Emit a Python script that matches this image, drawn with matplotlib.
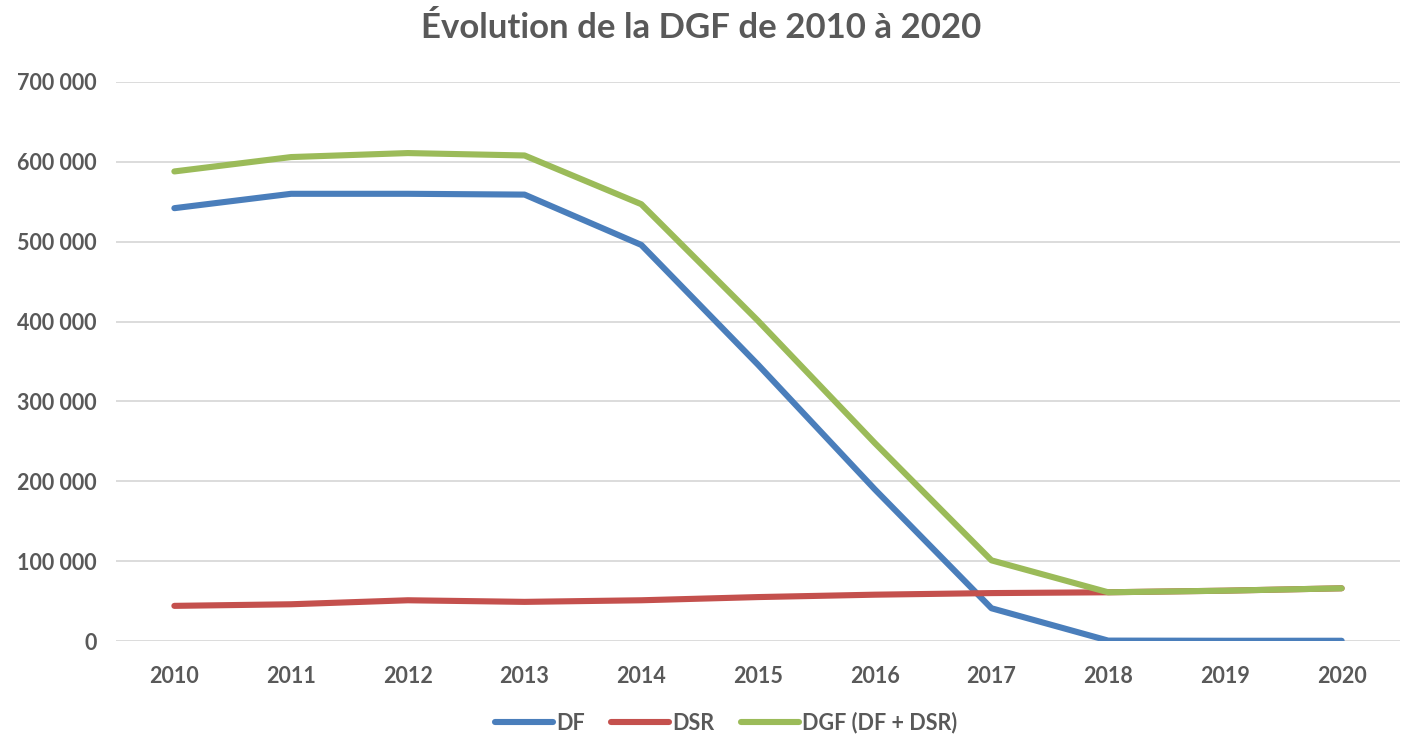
import matplotlib
matplotlib.use("Agg")
import matplotlib.pyplot as plt
from matplotlib.ticker import FuncFormatter

# Données
annees = ["2010", "2011", "2012", "2013", "2014", "2015", "2016", "2017", "2018", "2019", "2020"]
df = [542000, 560000, 560000, 559000, 496000, 346000, 190000, 41000, 500, 300, 300]
dsr = [44000, 46000, 51000, 49000, 51000, 55000, 58000, 60000, 61000, 63000, 66000]
dgf = [588000, 606000, 611000, 608000, 547000, 401000, 248000, 101000, 61000, 63000, 66000]

plt.rcParams['font.family'] = ['Lato', 'DejaVu Sans']
gris = '#595959'

fig = plt.figure(figsize=(14.02, 7.39), dpi=100)
ax = fig.add_axes([116/1402, 98/739, 1284/1402, 559/739])

x = range(len(annees))
ax.plot(x, df, color='#4a7ebb', linewidth=4.4, label='DF', solid_capstyle='round')
ax.plot(x, dsr, color='#c4504d', linewidth=4.4, label='DSR', solid_capstyle='round')
ax.plot(x, dgf, color='#9bbb59', linewidth=4.4, label='DGF (DF + DSR)', solid_capstyle='round')

ax.set_xlim(-0.5, len(annees) - 0.5)
ax.set_ylim(0, 700000)
ax.set_yticks(range(0, 700001, 100000))
ax.yaxis.set_major_formatter(FuncFormatter(lambda v, p: f"{int(v):,}".replace(",", " ")))
ax.set_xticks(list(x))
ax.set_xticklabels(annees)

ax.grid(axis='y', color='#d9d9d9', linewidth=1.3)
ax.set_axisbelow(True)
for s in ax.spines.values():
    s.set_visible(False)
ax.tick_params(axis='y', length=0, labelsize=15.5, labelcolor=gris, pad=14)
ax.tick_params(axis='x', length=0, labelsize=15.5, labelcolor=gris, pad=18)
for lab in ax.get_xticklabels() + ax.get_yticklabels():
    lab.set_fontweight('bold')

fig.text(0.5, 0.962, "Évolution de la DGF de 2010 à 2020", ha='center', va='center',
         fontsize=25, fontweight='bold', color=gris)

leg = fig.legend(loc='center', bbox_to_anchor=(0.518, 0.022), ncol=3, frameon=False,
                 prop={'size': 15.5, 'weight': 'bold'}, handlelength=2.7, columnspacing=1.2,
                 handletextpad=0.15)
for t in leg.get_texts():
    t.set_color(gris)

fig.savefig("out.png", dpi=100, facecolor='white')
